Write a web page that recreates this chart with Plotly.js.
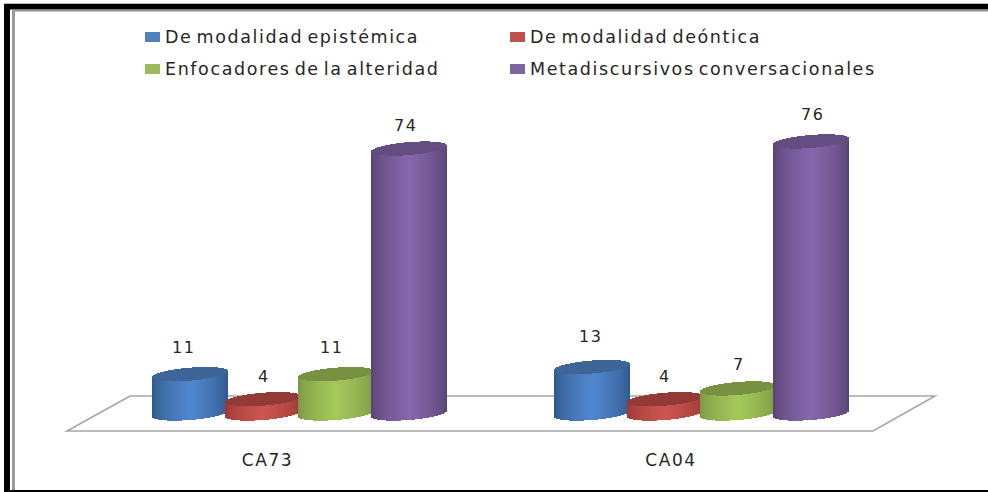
<!DOCTYPE html>
<html><head><meta charset="utf-8">
<script src="https://cdn.plot.ly/plotly-3.0.1.min.js"></script>
<style>
html,body{margin:0;padding:0;background:#fff;overflow:hidden}
.annotation-text,.xtick text{letter-spacing:1.6px;word-spacing:-3px}
</style></head><body><div id="chart" style="width:988px;height:492px"></div>
<script>
var categories = ["CA73", "CA04"];
var seriesNames = ["De modalidad epistémica", "De modalidad deóntica", "Enfocadores de la alteridad", "Metadiscursivos conversacionales"];
var epistemica = [11, 13];
var deontica = [4, 4];
var alteridad = [11, 7];
var metadiscursivos = [74, 76];
var seriesValues = [epistemica, deontica, alteridad, metadiscursivos];

var W = 988, H = 492, plotBottom = 440;
var baseY = 413.5, pxPerUnit = 3.58;
var groupLeft = [189.5, 591.5], slot = 73.2, halfW = 38;
var semi = 6.5, tilt = 3, N = 76;
var centre = [[80,135,205],[205,85,80],[165,200,90],[135,102,172]];
var edge   = [[45,85,135],[150,55,52],[120,148,68],[85,66,112]];
var top_   = [[61,101,150],[147,57,54],[119,145,64],[100,77,128]];
var swatch = ["#4f81bd","#c0504d","#9bbb59","#8064a2"];
var labelDx = [[-6,1,-4,-3],[-1,0,1,2]];
var labelDy = [[27,23,27,23],[30,23,24,27]];

function py(p){ return (plotBottom - p) / plotBottom; }
function mix(a,b,t){ return 'rgb('+a.map(function(v,i){return Math.round(v+(b[i]-v)*t);}).join(',')+')'; }

var traces = [], annotations = [];
seriesValues.forEach(function(vals, s){
  var xs=[], ys=[], bases=[], cols=[];
  // cylinder walls, then cap, each built from narrow bars
  vals.forEach(function(v, g){
    var cx = groupLeft[g] + s*slot;
    for (var i=0;i<N;i++){
      var u = (i+0.5)/N*2-1, r = Math.sqrt(1-u*u);
      var skew = tilt*u/pxPerUnit, h = semi*r/pxPerUnit;
      xs.push(cx+u*halfW); bases.push(skew-h); ys.push(v+2*h);
      cols.push(mix(edge[s], centre[s], Math.pow(1-Math.abs(u),0.6)));
    }
    for (var j=0;j<N;j++){
      var u2 = (j+0.5)/N*2-1, r2 = Math.sqrt(1-u2*u2);
      var sk = tilt*u2/pxPerUnit, h2 = semi*r2/pxPerUnit;
      xs.push(cx+u2*halfW); bases.push(v+sk-h2); ys.push(2*h2);
      cols.push(mix(top_[s], top_[s], 0));
    }
    annotations.push({x:cx, y:v, xref:'x', yref:'y', text:String(v), showarrow:false,
      xshift:labelDx[g][s], yshift:labelDy[g][s], font:{family:'DejaVu Sans',size:16,color:'#262626'}});
  });
  traces.push({type:'bar', name:seriesNames[s], x:xs, y:ys, base:bases, width:2*halfW/N,
    marker:{color:cols, line:{width:0}}, hoverinfo:'skip', showlegend:false});
});

// legend
var legendPos = [[145,37],[510,37],[145,69],[510,69]];
var shapes = [];
seriesNames.forEach(function(n,s){
  var p = legendPos[s];
  shapes.push({type:'rect', xref:'paper', yref:'paper', x0:p[0]/W, x1:(p[0]+15)/W, y0:py(p[1]-5), y1:py(p[1]+5),
    fillcolor:swatch[s], line:{width:0}});
  annotations.push({xref:'paper', yref:'paper', x:(p[0]+18)/W, y:py(p[1]), xanchor:'left', yanchor:'middle', showarrow:false,
    text:n, font:{family:'DejaVu Sans',size:17.5,color:'#262626'}});
});

// floor
var floor = [[67,431],[130,396],[935,396],[873,431]];
var path = floor.map(function(p,i){return (i?'L':'M')+(p[0]/W)+','+py(p[1]);}).join(' ')+' Z';
shapes.unshift({type:'path', xref:'paper', yref:'paper', path:path, line:{color:'#a6a6a6',width:1.6}, layer:'below'});

// frame
function band(x0,y0,x1,y1,c){ shapes.push({type:'rect',xref:'paper',yref:'paper',x0:x0/W,x1:x1/W,y0:py(y0),y1:py(y1),fillcolor:c,line:{width:0}}); }
band(4,3,988,4,'#bdbdbd');
band(4,4,988,9.5,'#000');
band(12,10,988,11.5,'#8c8c8c');
band(4,4,10,492,'#000');
band(12,10,15,490,'#9a9a9a');
band(10,490,988,492,'#000');

var layout = {
  width:W, height:H, margin:{l:0,r:0,t:0,b:H-plotBottom,pad:0},
  paper_bgcolor:'#fff', plot_bgcolor:'rgba(0,0,0,0)', showlegend:false,
  barmode:'overlay', bargap:0,
  xaxis:{range:[0,W], tickmode:'array', tickvals:[267.5,671], ticktext:categories, showgrid:false, zeroline:false, showline:false,
    ticks:'', ticklabelstandoff:8, tickfont:{family:'DejaVu Sans',size:17,color:'#262626'}},
  yaxis:{range:[(baseY-plotBottom)/pxPerUnit, baseY/pxPerUnit], visible:false, showgrid:false, zeroline:false},
  shapes:shapes, annotations:annotations
};
Plotly.newPlot('chart', traces, layout, {staticPlot:true, displayModeBar:false});
</script></body></html>
